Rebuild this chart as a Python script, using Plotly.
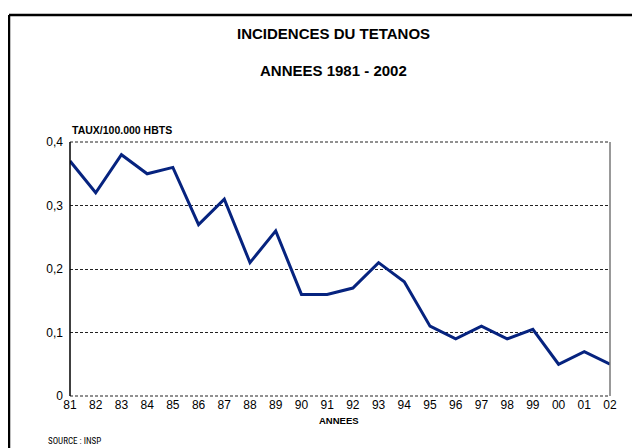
import plotly.graph_objects as go

years = ["81", "82", "83", "84", "85", "86", "87", "88", "89", "90", "91",
         "92", "93", "94", "95", "96", "97", "98", "99", "00", "01", "02"]
taux = [0.37, 0.32, 0.38, 0.35, 0.36, 0.27, 0.31, 0.21, 0.26, 0.16, 0.16,
        0.17, 0.21, 0.18, 0.11, 0.09, 0.11, 0.09, 0.105, 0.05, 0.07, 0.05]
y_ticks = [0, 0.1, 0.2, 0.3, 0.4]
y_labels = ["0", "0,1", "0,2", "0,3", "0,4"]

# page body has an 8px margin
OFF = 8
W, H = 640, 448 - OFF
L, T = 70 - OFF, 142 - OFF
pw, ph = 540, 254
R, B = W - L - pw, H - T - ph

def px(x):
    return (x - OFF - L) / pw

def py(y):
    return (H - B - (y - OFF)) / ph

FONT = "Liberation Sans, Arial, sans-serif"

fig = go.Figure()
fig.add_trace(go.Scatter(
    x=list(range(len(years))), y=taux, mode="lines",
    line=dict(color="#06237f", width=3),
    hoverinfo="skip", showlegend=False))

fig.update_xaxes(
    range=[0, len(years) - 1], tickmode="array",
    tickvals=list(range(len(years))), ticktext=years,
    showgrid=False, zeroline=False, showline=False, ticks="",
    tickfont=dict(family=FONT, size=12, color="#000"),
    fixedrange=True)
fig.update_yaxes(
    range=[0, 0.4], tickmode="array", tickvals=y_ticks, ticktext=y_labels,
    showgrid=True, gridcolor="#222", griddash="3px,2px", gridwidth=1,
    zeroline=False, showline=False, ticks="", ticklabelstandoff=6,
    tickfont=dict(family=FONT, size=12, color="#000"),
    fixedrange=True)

shapes = [
    dict(type="line", xref="paper", yref="paper", x0=0, x1=1, y0=1, y1=1,
         line=dict(color="#222", width=1, dash="3px,2px")),
    dict(type="line", xref="paper", yref="paper", x0=0, x1=1, y0=0, y1=0,
         line=dict(color="#222", width=1, dash="3px,2px")),
    dict(type="line", xref="paper", yref="paper", x0=0, x1=0, y0=0, y1=1,
         line=dict(color="#000", width=1.5)),
    dict(type="line", xref="paper", yref="paper", x0=1, x1=1, y0=0, y1=1,
         line=dict(color="#777", width=1.5)),
    dict(type="line", xref="paper", yref="paper", x0=px(9), x1=px(9), y0=py(15), y1=py(470),
         line=dict(color="#000", width=2.5)),
    dict(type="line", xref="paper", yref="paper", x0=px(9), x1=px(660), y0=py(15), y1=py(15),
         line=dict(color="#000", width=2.5)),
]

annotations = [
    dict(text="<b>INCIDENCES DU TETANOS</b>", x=px(333), y=py(33), xanchor="center",
         font=dict(family=FONT, size=15, color="#000")),
    dict(text="<b>ANNEES 1981 - 2002</b>", x=px(333), y=py(70), xanchor="center",
         font=dict(family=FONT, size=15, color="#000")),
    dict(text="<b>TAUX/100.000 HBTS</b>", x=px(70), y=py(130), xanchor="left",
         font=dict(family=FONT, size=10.5, color="#000")),
    dict(text="<b>ANNEES</b>", x=px(339), y=py(420), xanchor="center",
         font=dict(family=FONT, size=9.5, color="#000")),
    dict(text="SOURCE : INSP", x=px(46), y=py(441), xanchor="left",
         font=dict(family="Liberation Sans Narrow, Arial Narrow, Roboto Condensed, Liberation Sans, sans-serif",
                   size=9, color="#000")),
]
for a in annotations:
    a.update(xref="paper", yref="paper", showarrow=False, yanchor="middle")

fig.update_layout(
    width=W, height=H, margin=dict(l=L, r=R, t=T, b=B, pad=0),
    paper_bgcolor="white", plot_bgcolor="white",
    shapes=shapes, annotations=annotations, showlegend=False)

fig.write_html("out.html", config={"displayModeBar": False})
